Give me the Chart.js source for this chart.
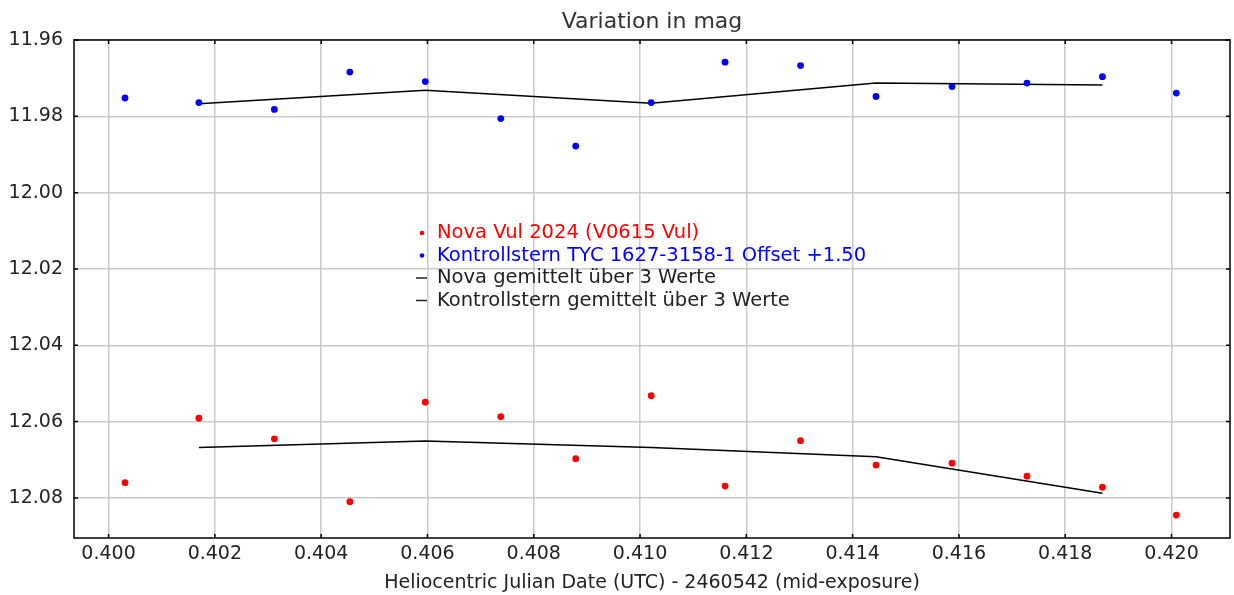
<!DOCTYPE html>
<html>
<head>
<meta charset="utf-8">
<script src="https://cdn.jsdelivr.net/npm/chart.js@4.4.1/dist/chart.umd.min.js"></script>
<style>
  html, body { margin: 0; padding: 0; background: #fff; }
</style>
</head>
<body>
<canvas id="magChart" width="1234" height="595"></canvas>
<script>
// Data
const hjd = [0.40031, 0.40170, 0.40312, 0.40454, 0.40596, 0.40738, 0.40879, 0.41021,
             0.41160, 0.41302, 0.41444, 0.41587, 0.41728, 0.41870, 0.42009];
const novaMag = [12.0760, 12.0591, 12.0645, 12.0810, 12.0549, 12.0587, 12.0697, 12.0532,
                 12.0769, 12.0650, 12.0714, 12.0709, 12.0743, 12.0772, 12.0845];
const checkMag = [11.9752, 11.9764, 11.9782, 11.9684, 11.9709, 11.9806, 11.9878, 11.9764,
                  11.9658, 11.9667, 11.9748, 11.9722, 11.9713, 11.9696, 11.9739];
const avgHjd = [0.40170, 0.40596, 0.41021, 0.41444, 0.41870];
const novaAvg = [12.0668, 12.0651, 12.0668, 12.0692, 12.0788];
const checkAvg = [11.9767, 11.9732, 11.9766, 11.9713, 11.9718];

const xTicks = [0.400, 0.402, 0.404, 0.406, 0.408, 0.410, 0.412, 0.414, 0.416, 0.418, 0.420];
const yTicks = [11.96, 11.98, 12.00, 12.02, 12.04, 12.06, 12.08];

const title = 'Variation in mag';
const labels = [
  'Nova Vul 2024 (V0615 Vul)',
  'Kontrollstern TYC 1627-3158-1 Offset +1.50',
  'Nova gemittelt über 3 Werte',
  'Kontrollstern gemittelt über 3 Werte'
];

const FONT = 'DejaVu Sans';
const pts = (xs, ys) => xs.map((x, i) => ({ x: x, y: ys[i] }));

// Frame with inward tick marks on all four sides, plus title over the plot area
const framePlugin = {
  id: 'frame',
  afterDraw(chart) {
    const { ctx, chartArea: a, scales: { x, y } } = chart;
    ctx.save();
    ctx.strokeStyle = '#000';
    ctx.lineWidth = 1.5;
    ctx.strokeRect(a.left, a.top, a.right - a.left, a.bottom - a.top);
    ctx.beginPath();
    xTicks.forEach(v => {
      const px = x.getPixelForValue(v);
      ctx.moveTo(px, a.top); ctx.lineTo(px, a.top + 4);
      ctx.moveTo(px, a.bottom); ctx.lineTo(px, a.bottom - 4);
    });
    yTicks.forEach(v => {
      const py = y.getPixelForValue(v);
      ctx.moveTo(a.left, py); ctx.lineTo(a.left + 4, py);
      ctx.moveTo(a.right, py); ctx.lineTo(a.right - 4, py);
    });
    ctx.stroke();

    ctx.fillStyle = '#333';
    ctx.font = '22px "' + FONT + '"';
    ctx.textAlign = 'center';
    ctx.textBaseline = 'alphabetic';
    ctx.fillText(title, (a.left + a.right) / 2, 28);
    ctx.restore();
  }
};

// Legend drawn inside the plot
const legendPlugin = {
  id: 'innerLegend',
  afterDraw(chart) {
    const ctx = chart.ctx;
    ctx.save();
    ctx.font = '19.5px "' + FONT + '"';
    ctx.textBaseline = 'middle';
    chart.data.datasets.forEach((ds, i) => {
      const yy = 233 + i * 22.5;
      const col = ds.showLine ? '#222' : ds.backgroundColor;
      if (ds.showLine) {
        ctx.strokeStyle = col;
        ctx.lineWidth = 1.5;
        ctx.beginPath();
        ctx.moveTo(416, yy); ctx.lineTo(427, yy);
        ctx.stroke();
      } else {
        ctx.fillStyle = col;
        ctx.beginPath();
        ctx.arc(422, yy, 2.3, 0, Math.PI * 2);
        ctx.fill();
      }
      ctx.fillStyle = col;
      ctx.fillText(ds.label, 437, yy);
    });
    ctx.restore();
  }
};

new Chart(document.getElementById('magChart'), {
  type: 'scatter',
  data: {
    datasets: [
      { label: labels[0], data: pts(hjd, novaMag), backgroundColor: '#ff0000', borderColor: '#ff0000',
        pointRadius: 3.4, pointBorderWidth: 0, showLine: false },
      { label: labels[1], data: pts(hjd, checkMag), backgroundColor: '#0000ff', borderColor: '#0000ff',
        pointRadius: 3.4, pointBorderWidth: 0, showLine: false },
      { label: labels[2], data: pts(avgHjd, novaAvg), borderColor: '#000', backgroundColor: '#000',
        borderWidth: 1.5, pointRadius: 0, showLine: true, tension: 0 },
      { label: labels[3], data: pts(avgHjd, checkAvg), borderColor: '#000', backgroundColor: '#000',
        borderWidth: 1.5, pointRadius: 0, showLine: true, tension: 0 }
    ]
  },
  options: {
    responsive: false,
    animation: false,
    layout: { padding: { left: 0, right: 2, top: 40, bottom: 0 } },
    plugins: {
      legend: { display: false },
      tooltip: { enabled: false },
      title: { display: false }
    },
    scales: {
      x: {
        type: 'linear',
        min: 0.39935,
        max: 0.42110,
        afterBuildTicks: s => { s.ticks = xTicks.map(v => ({ value: v })); },
        afterFit: s => { s.height = 57; },
        ticks: {
          callback: v => v.toFixed(3),
          color: '#222',
          font: { family: FONT, size: 19 },
          padding: 5,
          maxRotation: 0,
          autoSkip: false
        },
        grid: { color: '#cacaca', lineWidth: 1.5, drawTicks: false },
        border: { display: false },
        title: {
          display: true,
          text: 'Heliocentric Julian Date (UTC) - 2460542 (mid-exposure)',
          color: '#222',
          font: { family: FONT, size: 19 },
          padding: { top: 0, bottom: 1 }
        }
      },
      y: {
        type: 'linear',
        reverse: true,
        min: 11.96,
        max: 12.0905,
        afterBuildTicks: s => { s.ticks = yTicks.map(v => ({ value: v })); },
        afterFit: s => { s.width = 74; },
        ticks: {
          callback: v => v.toFixed(2),
          color: '#222',
          font: { family: FONT, size: 19 },
          padding: 11
        },
        grid: { color: '#cacaca', lineWidth: 1.5, drawTicks: false },
        border: { display: false }
      }
    }
  },
  plugins: [framePlugin, legendPlugin]
});
</script>
</body>
</html>
